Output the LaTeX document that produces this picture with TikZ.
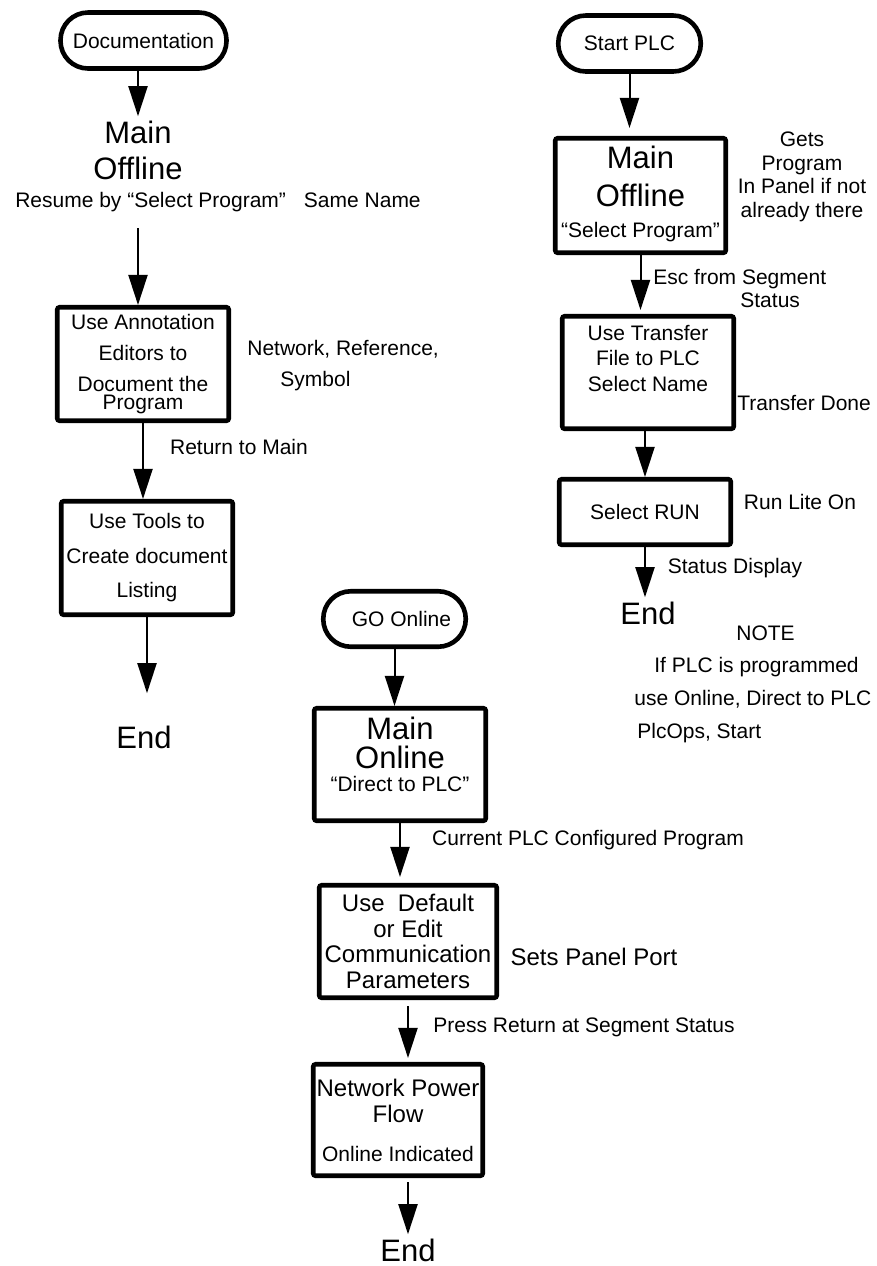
\documentclass[tikz,border=0pt]{standalone}
\usepackage{fontspec}
\setmainfont{Liberation Sans}
\usetikzlibrary{arrows.meta}

\newcommand{\smallf}{\fontsize{10.5}{12.6}\selectfont}
\newcommand{\bigf}{\fontsize{15.5}{18}\selectfont}
\newcommand{\midf}{\fontsize{12}{13}\selectfont}

\begin{document}
\begin{tikzpicture}[x=0.5pt, y=-0.5pt,
    term/.style={draw, line width=2.3pt, rounded corners=13.8pt, minimum height=28pt, inner sep=0pt, font=\smallf},
    stepbox/.style={draw, line width=2.3pt, rounded corners=1.2pt, inner sep=1pt, align=center, font=\smallf},
    txt/.style={inner sep=0pt, font=\smallf},
    endtxt/.style={inner sep=2pt, font=\bigf},
    flow/.style={-{Triangle[length=15pt, width=9.5pt]}, line width=1pt}]
    \useasboundingbox (0,0) rectangle (877,1266);

    % Left column: documentation
    \node[term, minimum width=83pt] (doc) at (143.5,40.5) {Documentation};
    \node[font=\bigf, align=center, inner sep=2pt] (mainoff) at (138,150) {Main\\Offline};
    \node[txt] (resume) at (218,202) {Resume by “Select Program”\hspace{9pt}Same Name};
    \node[stepbox, minimum width=85.75pt, minimum height=56.75pt, font=\fontsize{10.5}{15.5}\selectfont] (annot) at (143,364) {Use Annotation\\Editors to\\Document the\\[-6.5pt]Program};
    \node[txt, align=left, anchor=west, font=\fontsize{10.5}{15.5}\selectfont] (netref) at (247,365.5) {Network, Reference,\\\hspace*{16.5pt}Symbol};
    \node[txt] (retmain) at (239,447) {Return to Main};
    \node[stepbox, minimum width=85.75pt, minimum height=56.75pt, font=\fontsize{10.5}{17.25}\selectfont] (tools) at (147,558) {Use Tools to\\Create document\\Listing};
    \node[endtxt] (end1) at (144,737) {End};

    \draw[flow] (doc.south -| mainoff.north) -- (mainoff.north);
    \draw[flow, shorten <=8pt] (mainoff.south |- resume.south) -- (mainoff.south |- annot.north);
    \draw[flow] (annot.south) -- (annot.south |- tools.north);
    \draw[flow, shorten >=14pt] (tools.south) -- (tools.south |- end1.north);

    % Right column: start PLC
    \node[term, minimum width=71.25pt] (startplc) at (629.5,43.5) {Start PLC};
    \node[stepbox, minimum width=85.25pt, minimum height=57.25pt, font=\bigf] (mainoff2) at (640.5,195.5) {Main\\[1pt]Offline\\[-2.25pt]{\smallf “Select Program”}\\[-14.5pt]\mbox{}};
    \node[txt, align=center, font=\fontsize{10.5}{11.75}\selectfont] (gets) at (802,177) {Gets\\Program\\In Panel if not\\already there};
    \node[txt, align=left, anchor=west, font=\fontsize{10.5}{11.5}\selectfont] (esc) at (653,288.5) {Esc from Segment\\\hspace*{43.5pt}Status};
    \node[stepbox, minimum width=85.75pt, minimum height=56.25pt, font=\fontsize{10.5}{12.75}\selectfont] (transfer) at (648,372.5) {Use Transfer\\File to PLC\\Select Name\\[1.5pt]\mbox{}};
    \node[txt, anchor=west] (done) at (737,403) {Transfer Done};
    \node[stepbox, minimum width=85.75pt, minimum height=32.75pt] (run) at (645,512) {Select RUN};
    \node[txt] (lite) at (800,502) {Run Lite On};
    \node[txt] (statdisp) at (735,568) {Status Display};
    \node[endtxt] (end2) at (648,613) {End};
    \node[txt, align=left, anchor=west, font=\fontsize{10.5}{16.3}\selectfont] (note) at (634,684) {\hspace*{51pt}NOTE\\\hspace*{10pt}If PLC is programmed\\use Online, Direct to PLC\\\hspace*{1.5pt}PlcOps, Start};

    \draw[flow, shorten >=4pt] (startplc.south) -- (startplc.south |- mainoff2.north);
    \draw[flow, shorten >=2pt] (mainoff2.south) -- (mainoff2.south |- transfer.north);
    \draw[flow] (transfer.south -| run.north) -- (run.north);
    \draw[flow] (run.south) -- (run.south |- end2.north);

    % Middle column: go online
    \node[term, minimum width=71.25pt, minimum height=27.75pt] (goon) at (394.5,619) {\hspace{7pt}GO Online};
    \node[stepbox, minimum width=85.75pt, minimum height=56.25pt, font=\fontsize{15.5}{14.5}\selectfont] (mainon) at (400,764.5) {Main\\Online\\[-3.25pt]{\smallf “Direct to PLC”}\\[-4.5pt]\mbox{}};
    \node[txt] (current) at (588,840) {Current PLC Configured Program};
    \node[stepbox, minimum width=88.75pt, minimum height=56.25pt, font=\fontsize{12}{12.85}\selectfont] (defaults) at (408,941.5) {Use\ \ Default\\or Edit\\Communication\\Parameters};
    \node[txt, font=\midf] (port) at (594,957) {Sets Panel Port};
    \node[txt] (press) at (584,1027) {Press Return at Segment Status};
    \node[stepbox, minimum width=84.75pt, minimum height=55.75pt, font=\fontsize{12}{13}\selectfont] (netpow) at (398,1120) {Network Power\\Flow\\[6.5pt]{\smallf Online Indicated}};
    \node[endtxt] (end3) at (408,1250) {End};

    \draw[flow] (goon.south) -- (goon.south |- mainon.north);
    \draw[flow, shorten >=3pt] (mainon.south) -- (mainon.south |- defaults.north);
    \draw[flow, shorten <=3pt, shorten >=2pt] (defaults.south -| end3.south) -- (end3.south |- netpow.north);
    \draw[flow, shorten <=2pt] (netpow.south -| end3.north) -- (end3.north);
\end{tikzpicture}
\end{document}
